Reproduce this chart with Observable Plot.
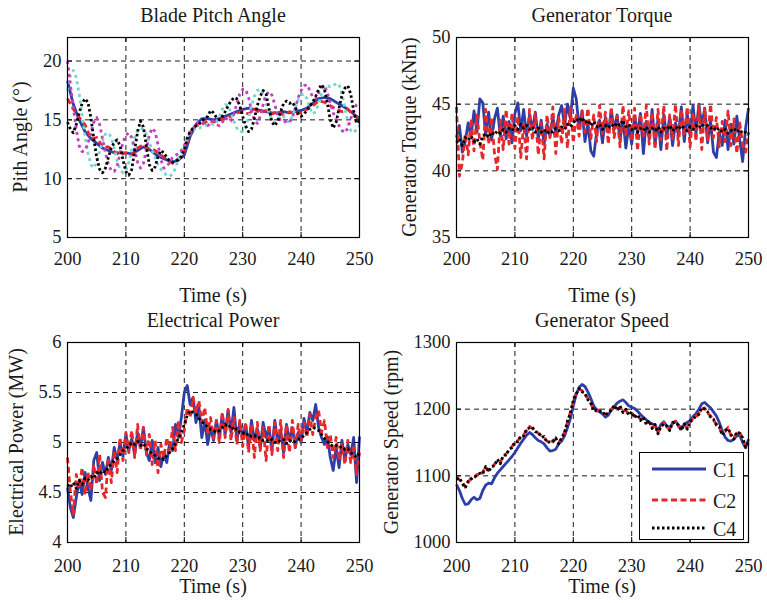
<!DOCTYPE html>
<html><head><meta charset="utf-8">
<script src="https://cdn.jsdelivr.net/npm/d3@7"></script>
<script src="https://cdn.jsdelivr.net/npm/@observablehq/plot@0.6"></script>
<style>
body{margin:0;background:#fff;}
#root{position:relative;width:767px;height:603px;font-family:"Liberation Serif","Times New Roman",serif;color:#1a1a1a;overflow:hidden;}
#root svg text{font-family:"Liberation Serif","Times New Roman",serif;}
.panel{position:absolute;}
.title,.xlab{position:absolute;font-size:20px;line-height:20px;white-space:nowrap;transform:translate(-50%,-50%);}
.ylab{position:absolute;font-size:20px;line-height:20px;white-space:nowrap;transform:translate(-50%,-50%) rotate(-90deg);}
.legend{position:absolute;background:#fff;border:1px solid #000;box-sizing:border-box;}
.legend .row{position:absolute;left:0;height:20px;font-size:20px;line-height:20px;}
.legend svg{position:absolute;left:12px;top:0;}
.legend span{position:absolute;left:73px;top:1px;}
</style></head><body><div id="root"></div>
<script>
// ---------- data ----------
const xTicks = [200, 210, 220, 230, 240, 250];
const t05 = d3.range(0, 101).map(i => 200 + i * 0.5);   // 0.5 s sampling
const t1 = d3.range(0, 51).map(i => 200 + i);           // 1 s sampling

const pitchTicks = [5, 10, 15, 20];
const torqueTicks = [35, 40, 45, 50];
const powerTicks = [4, 4.5, 5, 5.5, 6];
const speedTicks = [1000, 1100, 1200, 1300];

const legendNames = ["C1", "C2", "C4"];

// Blade pitch angle (deg)
const pitchC1 = [18.3,16.3,15.0,14.0,13.4,13.0,12.6,12.4,12.2,12.2,
  12.2,12.1,12.4,12.7,12.5,12.1,11.8,11.6,11.4,11.6,
  12.0,13.6,14.6,15.1,15.1,15.0,15.1,15.3,15.5,15.7,
  15.9,16.0,15.9,15.8,15.7,15.6,15.6,15.7,15.6,15.7,
  15.8,16.0,16.4,16.8,16.9,16.8,16.5,16.2,15.9,15.5,15.1];
const pitchC2 = [16.8,15.9,15.2,14.6,13.4,13.5,12.7,12.7,12.3,12.0,
  12.2,12.0,12.6,12.9,12.5,12.4,12.0,11.6,11.3,11.7,
  12.3,13.9,14.5,14.6,14.9,14.8,15.0,15.1,15.3,15.6,
  15.7,15.5,15.9,15.6,15.8,15.5,15.7,15.4,15.7,15.5,
  15.6,15.9,16.2,16.6,16.5,16.2,15.9,15.7,15.9,15.4,15.0];
const pitchC4 = [14.8,14.2,13.9,14.6,15.6,16.4,16.8,16.5,15.2,13.4,
  11.8,10.8,10.5,10.9,11.8,12.6,13.1,13.3,12.8,11.6,
  10.6,10.3,10.8,12.4,14.0,14.9,14.4,12.8,11.2,10.7,
  11.0,11.9,12.4,12.2,11.8,11.5,11.4,11.5,11.6,11.9,
  12.5,13.4,14.0,14.3,14.5,14.6,14.9,15.1,15.3,15.8,
  15.6,15.2,15.0,15.3,15.7,16.2,16.6,16.9,16.8,16.2,
  15.3,14.5,14.0,14.2,15.1,16.2,17.0,17.5,17.2,16.0,
  14.8,14.5,14.9,15.7,16.4,16.6,16.4,16.5,16.1,15.5,
  15.3,15.5,15.8,16.2,16.5,17.0,17.6,18.0,17.6,16.4,
  15.0,14.3,14.8,16.0,17.1,17.7,17.9,17.2,15.8,14.7,14.9];
const pitchC3 = [20.0,18.0,16.0,14.2,12.8,12.3,12.4,13.0,13.9,14.8,
  15.2,14.6,13.4,12.2,11.2,10.7,10.6,11.1,12.1,13.1,
  13.7,13.9,13.5,12.5,11.4,10.9,11.3,12.5,13.7,14.3,
  14.0,12.9,11.6,10.9,11.0,11.4,11.8,12.0,12.1,12.4,
  12.8,13.5,14.0,14.3,14.6,14.9,14.8,14.6,14.5,14.7,
  14.9,14.6,14.5,14.8,15.2,15.0,14.9,15.5,16.4,17.2,
  17.6,17.6,16.9,15.8,15.0,14.7,15.3,16.3,17.1,17.4,
  17.1,16.3,15.4,14.9,14.8,14.9,14.8,15.2,16.0,16.9,
  17.5,17.9,18.0,17.5,16.9,16.8,17.3,17.8,17.9,17.3,
  16.4,15.6,15.0,14.5,14.1,13.9,14.3,15.1,15.8,16.3,16.5];
const pitchC5 = [17.5,18.8,19.2,18.6,17.2,15.4,13.6,12.2,11.2,10.9,
  11.4,12.3,13.2,13.8,13.9,13.5,12.6,11.5,10.8,10.5,
  10.7,11.4,12.5,13.5,14.1,14.3,14.2,13.8,13.1,12.4,
  11.8,11.2,10.8,10.5,10.3,10.2,10.4,10.9,11.6,12.3,
  12.8,13.3,13.8,14.1,14.3,14.3,14.4,14.5,14.6,14.7,
  14.6,14.8,15.3,15.9,16.3,16.2,15.6,14.9,14.3,14.0,
  14.0,14.4,15.2,16.2,17.0,17.5,17.6,17.2,16.4,15.6,
  15.0,14.8,15.0,15.4,15.3,14.9,14.8,15.3,16.0,16.7,
  17.1,17.2,16.8,16.0,15.5,15.7,16.4,17.2,17.7,17.9,
  17.8,17.9,18.1,18.0,17.2,16.0,14.8,14.1,13.9,14.2,14.5];

// Generator torque (kNm)
const torqueC1 = [42.5,43.4,41.4,42.2,43.6,42.6,44.5,42.9,45.4,45.1,
  42.7,44.4,42.3,43.9,44.7,42.6,44.1,42.4,43.7,42.1,
  44.3,45.1,43.0,44.6,42.6,44.2,43.1,44.4,42.4,43.8,
  42.0,43.5,42.6,44.0,42.8,44.2,44.9,43.4,45.0,43.9,
  46.2,45.4,43.2,44.5,42.2,43.6,41.5,41.1,42.9,43.8,
  42.1,44.0,42.9,44.5,43.1,44.2,42.3,43.9,41.7,43.4,
  42.0,44.1,42.8,44.3,41.3,43.7,42.4,44.6,42.0,43.9,
  41.6,44.2,42.5,44.0,41.9,43.6,42.7,44.8,42.2,44.3,
  42.6,44.9,42.8,45.0,43.4,44.7,42.1,43.8,41.4,41.0,
  42.9,41.9,43.8,41.6,43.5,42.0,44.1,42.3,40.7,43.2,44.7];
const torqueC2 = [44.8,39.6,40.6,42.8,41.2,43.9,41.5,44.2,42.2,40.8,
  44.6,42.0,44.0,41.3,40.1,43.8,41.6,44.6,42.0,44.3,
  41.7,44.1,41.0,43.5,40.9,44.6,42.3,44.3,41.2,43.6,
  40.9,44.2,42.5,44.8,41.3,44.0,42.0,44.6,41.7,44.8,
  42.1,44.3,42.6,44.5,42.9,44.7,42.4,44.2,42.2,44.9,
  42.8,44.4,42.0,44.8,42.5,44.1,41.8,44.9,42.7,44.5,
  42.2,44.7,41.5,44.3,42.6,44.9,42.0,44.4,41.6,44.6,
  42.3,44.9,41.5,44.2,42.4,45.0,41.9,44.6,42.6,44.8,
  41.8,44.4,42.2,44.9,41.6,44.7,42.3,45.0,42.5,44.0,
  41.8,43.7,42.2,44.5,41.9,43.9,41.3,43.6,42.0,41.4,42.9];
const torqueC4 = [42.1,42.4,41.9,42.5,42.3,42.6,42.2,42.4,42.0,42.6,
  42.8,42.5,42.9,42.7,43.0,42.8,43.1,42.9,43.2,43.0,
  43.4,43.1,43.5,43.2,43.4,43.1,43.3,42.9,43.2,42.9,
  43.1,42.8,43.0,42.9,43.2,43.0,43.3,43.1,43.5,43.3,
  43.6,43.9,43.7,44.0,43.6,43.8,43.4,43.7,43.3,43.5,
  43.1,43.4,43.2,43.5,43.3,43.6,43.4,43.8,43.3,43.5,
  43.1,43.3,42.9,43.2,43.0,43.3,42.9,43.2,43.0,43.3,
  42.9,43.2,43.1,43.4,43.0,43.3,43.1,43.4,43.2,43.0,
  43.3,43.1,43.4,43.2,43.5,43.3,43.4,43.2,43.3,43.0,
  43.2,42.9,43.1,42.8,43.0,43.2,42.9,43.1,42.8,42.9,42.7];

// Electrical power (MW)
const powerC1 = [4.55,4.35,4.25,4.45,4.62,4.48,4.70,4.55,4.42,4.82,
  4.90,4.62,4.80,4.68,4.85,4.72,4.95,4.82,5.00,4.86,
  5.08,4.92,5.04,4.88,5.10,4.95,5.15,4.90,4.82,5.02,
  4.80,4.95,4.76,4.90,4.80,5.00,4.92,5.18,5.05,5.25,
  5.50,5.57,5.38,5.45,5.20,5.35,5.05,5.22,4.98,5.15,
  5.02,5.22,5.05,5.28,5.08,5.32,5.10,5.35,5.02,5.20,
  5.05,5.18,4.96,5.22,5.02,5.14,4.94,5.20,5.05,5.15,
  4.92,5.22,5.00,5.12,4.90,5.18,5.02,5.15,4.95,5.10,
  5.00,5.24,5.10,5.30,5.22,5.38,5.15,5.05,4.98,5.06,
  4.85,4.72,4.95,4.75,5.02,4.82,4.98,4.88,5.05,4.60,5.06];
const powerC2 = [4.85,4.50,4.28,4.68,4.55,4.75,4.48,4.70,4.52,4.78,
  4.58,4.88,4.50,4.45,4.85,4.60,4.92,4.70,5.05,4.82,
  5.10,4.90,5.12,4.85,5.18,4.92,5.15,4.88,5.08,4.78,
  5.02,4.70,4.98,4.85,5.05,4.90,5.15,4.92,5.22,5.00,
  5.12,5.35,5.25,5.45,5.30,5.42,5.20,5.35,5.10,5.25,
  5.04,5.22,5.00,5.30,5.05,5.33,5.02,5.25,4.98,5.22,
  4.96,5.20,4.90,5.18,4.85,5.20,4.92,5.15,4.82,5.18,
  4.88,5.20,4.92,5.22,4.85,5.18,4.90,5.22,4.95,5.18,
  5.02,5.20,5.05,5.28,5.08,5.25,5.32,5.10,5.22,4.95,
  5.08,4.85,5.05,4.82,4.98,4.78,5.02,4.80,4.95,4.68,4.90];
const powerC4 = [4.58,4.55,4.60,4.54,4.62,4.58,4.64,4.62,4.66,4.64,
  4.70,4.68,4.72,4.70,4.76,4.78,4.82,4.84,4.88,4.92,
  4.94,4.97,5.00,4.98,5.01,4.97,4.99,4.94,4.92,4.88,
  4.87,4.84,4.85,4.83,4.87,4.90,4.94,4.99,5.04,5.10,
  5.18,5.27,5.32,5.30,5.28,5.24,5.21,5.18,5.16,5.13,
  5.12,5.10,5.12,5.15,5.18,5.15,5.17,5.12,5.14,5.10,
  5.10,5.07,5.09,5.06,5.07,5.04,5.05,5.02,5.03,5.01,
  5.03,5.00,5.02,5.01,5.03,4.99,5.02,5.00,5.01,5.03,
  5.04,5.07,5.10,5.13,5.15,5.14,5.12,5.08,5.04,5.01,
  4.98,4.96,4.97,4.95,4.96,4.93,4.94,4.90,4.88,4.85,4.90];

// Generator speed (rpm)
const speedC1 = [1087,1078,1066,1057,1058,1064,1068,1064,1066,1078,
  1086,1089,1088,1097,1104,1109,1114,1119,1124,1129,
  1135,1142,1149,1155,1161,1165,1162,1157,1153,1151,
  1148,1142,1137,1138,1140,1148,1152,1160,1172,1186,
  1205,1222,1233,1237,1234,1226,1216,1205,1199,1196,
  1193,1188,1191,1199,1204,1209,1212,1214,1210,1205,
  1203,1201,1197,1192,1188,1184,1180,1178,1176,1168,
  1177,1181,1175,1172,1179,1182,1176,1172,1177,1180,
  1183,1189,1193,1200,1208,1210,1206,1202,1196,1190,
  1180,1168,1158,1153,1152,1155,1160,1161,1150,1142,1155];
const speedC2 = [1098,1094,1092,1083,1090,1097,1096,1102,1100,1106,
  1113,1108,1112,1117,1123,1120,1129,1133,1138,1144,
  1149,1153,1158,1162,1168,1174,1171,1168,1164,1160,
  1157,1152,1149,1153,1155,1150,1155,1166,1180,1196,
  1211,1225,1230,1228,1222,1216,1208,1199,1197,1199,
  1195,1192,1194,1200,1204,1200,1203,1197,1198,1193,
  1194,1189,1190,1185,1186,1179,1181,1173,1175,1165,
  1172,1180,1173,1170,1178,1182,1174,1170,1176,1172,
  1180,1186,1188,1194,1200,1202,1194,1190,1183,1178,
  1172,1163,1166,1173,1160,1157,1164,1166,1155,1145,1148];
const speedC4 = [1095,1097,1088,1082,1092,1095,1099,1100,1104,1103,
  1114,1106,1114,1115,1125,1118,1131,1131,1140,1142,
  1151,1151,1160,1160,1170,1172,1173,1166,1166,1158,
  1159,1150,1151,1151,1157,1148,1157,1164,1182,1194,
  1213,1223,1231,1226,1224,1214,1210,1197,1199,1197,
  1197,1190,1196,1198,1206,1198,1205,1195,1200,1191,
  1196,1187,1192,1183,1188,1177,1183,1171,1177,1163,
  1174,1178,1175,1168,1180,1180,1176,1168,1178,1170,
  1182,1184,1190,1192,1202,1200,1196,1188,1185,1176,
  1174,1161,1168,1171,1162,1155,1166,1164,1157,1143,1150];

// ---------- styles ----------
const BLUE = "#2d3fa6", RED = "#e4282b", BLACK = "#000", MAGENTA = "#c23fc0", CYAN = "#74d6d0";
const S1 = {color: BLUE, dash: null, width: 2.8};
const S2 = {color: RED, dash: "6,3.5", width: 2.8};
const S4 = {color: BLACK, dash: "2.5,2.5", width: 2.8};
const S3 = {color: MAGENTA, dash: "3,3.5", width: 2.8};
const S5 = {color: CYAN, dash: "3,3.5", width: 2.8};

const panels = [
  {title: "Blade Pitch Angle", ylabel: "Pith Angle (°)", yDomain: [5, 22], yTicks: pitchTicks,
   left: 0, top: 0, width: 383, height: 300, ml: 67, mr: 24, mt: 37, mb: 63, tp: 14,
   titleY: 15, xlabY: 295, ylabX: 20,
   series: [[pitchC1, t1, S1], [pitchC2, t1, S2], [pitchC5, t05, S5], [pitchC3, t05, S3], [pitchC4, t05, S4]]},
  {title: "Generator Torque", ylabel: "Generator Torque (kNm)", yDomain: [35, 50], yTicks: torqueTicks,
   left: 383, top: 0, width: 384, height: 300, ml: 73, mr: 19, mt: 37, mb: 63, tp: 14,
   titleY: 15, xlabY: 295, ylabX: 409,
   series: [[torqueC1, t05, S1], [torqueC2, t05, S2], [torqueC4, t05, S4]]},
  {title: "Electrical Power", ylabel: "Electrical Power (MW)", yDomain: [4, 6], yTicks: powerTicks,
   left: 0, top: 300, width: 383, height: 303, ml: 67, mr: 24, mt: 42, mb: 61, tp: 16,
   titleY: 320, xlabY: 586, ylabX: 16,
   series: [[powerC1, t05, S1], [powerC2, t05, S2], [powerC4, t05, S4]]},
  {title: "Generator Speed", ylabel: "Generator Speed (rpm)", yDomain: [1000, 1300], yTicks: speedTicks,
   left: 383, top: 300, width: 384, height: 303, ml: 73, mr: 19, mt: 42, mb: 61, tp: 16,
   titleY: 320, xlabY: 586, ylabX: 391,
   series: [[speedC1, t05, S1], [speedC2, t05, S2], [speedC4, t05, S4]]}
];

const root = document.getElementById("root");

function addText(cls, text, x, y) {
  const d = document.createElement("div");
  d.className = cls; d.textContent = text;
  d.style.left = x + "px"; d.style.top = y + "px";
  root.appendChild(d);
}

for (const p of panels) {
  const iw = p.width - p.ml - p.mr, ih = p.height - p.mt - p.mb;
  const [x0, x1] = [xTicks[0], xTicks[xTicks.length - 1]];
  const [y0, y1] = p.yDomain;
  const xt = (x1 - x0) * 5 / iw, yt = (y1 - y0) * 5 / ih;
  const gridStyle = {stroke: "#000", strokeWidth: 0.9, strokeDasharray: "5,4"};
  const marks = [
    Plot.ruleX(xTicks.filter(v => v > x0 && v < x1), gridStyle),
    Plot.ruleY(p.yTicks.filter(v => v > y0 && v < y1), gridStyle)
  ];
  for (const [vals, times, st] of p.series) {
    const data = vals.map((v, i) => ({t: times[i], v}));
    marks.push(Plot.line(data, {x: "t", y: "v", stroke: st.color, strokeWidth: st.width,
      strokeDasharray: st.dash, strokeLinecap: "butt", strokeLinejoin: "round"}));
  }
  const tick = {stroke: "#000", strokeWidth: 1};
  marks.push(
    Plot.ruleX(xTicks, {x: d => d, y1: y0, y2: y0 + yt, ...tick}),
    Plot.ruleX(xTicks, {x: d => d, y1: y1 - yt, y2: y1, ...tick}),
    Plot.ruleY(p.yTicks, {y: d => d, x1: x0, x2: x0 + xt, ...tick}),
    Plot.ruleY(p.yTicks, {y: d => d, x1: x1 - xt, x2: x1, ...tick}),
    Plot.frame({stroke: "#000", strokeWidth: 1.2})
  );
  const svg = Plot.plot({
    width: p.width, height: p.height,
    marginLeft: p.ml, marginRight: p.mr, marginTop: p.mt, marginBottom: p.mb,
    style: {fontFamily: "'Liberation Serif', 'Times New Roman', serif", fontSize: "18.5px",
            color: "#1a1a1a", background: "transparent", overflow: "visible"},
    x: {domain: [x0, x1], ticks: xTicks, tickSize: 0, tickPadding: p.tp, tickFormat: d => String(d), label: null},
    y: {domain: p.yDomain, ticks: p.yTicks, tickSize: 0, tickPadding: 6, tickFormat: d => String(d), label: null},
    marks
  });
  svg.classList.add("panel");
  svg.style.position = "absolute";
  svg.style.left = p.left + "px";
  svg.style.top = p.top + "px";
  root.appendChild(svg);

  const cx = p.left + p.ml + iw / 2;
  addText("title", p.title, cx, p.titleY);
  addText("xlab", "Time (s)", cx, p.xlabY);
  addText("ylab", p.ylabel, p.ylabX, p.top + p.mt + ih / 2);
}

// ---------- legend (Generator Speed panel) ----------
const leg = document.createElement("div");
leg.className = "legend";
leg.style.left = "639px"; leg.style.top = "452px";
leg.style.width = "105px"; leg.style.height = "88px";
const legStyles = [S1, S2, S4];
const rowTops = [6, 37, 65];
legendNames.forEach((name, i) => {
  const row = document.createElement("div");
  row.className = "row";
  row.style.top = rowTops[i] + "px";
  row.style.width = "100%";
  const st = legStyles[i];
  row.innerHTML = `<svg width="54" height="20"><line x1="0" x2="54" y1="10" y2="10" stroke="${st.color}" stroke-width="${st.width}" ${st.dash ? `stroke-dasharray="${st.dash}"` : ""}/></svg><span>${name}</span>`;
  leg.appendChild(row);
});
root.appendChild(leg);
</script></body></html>
